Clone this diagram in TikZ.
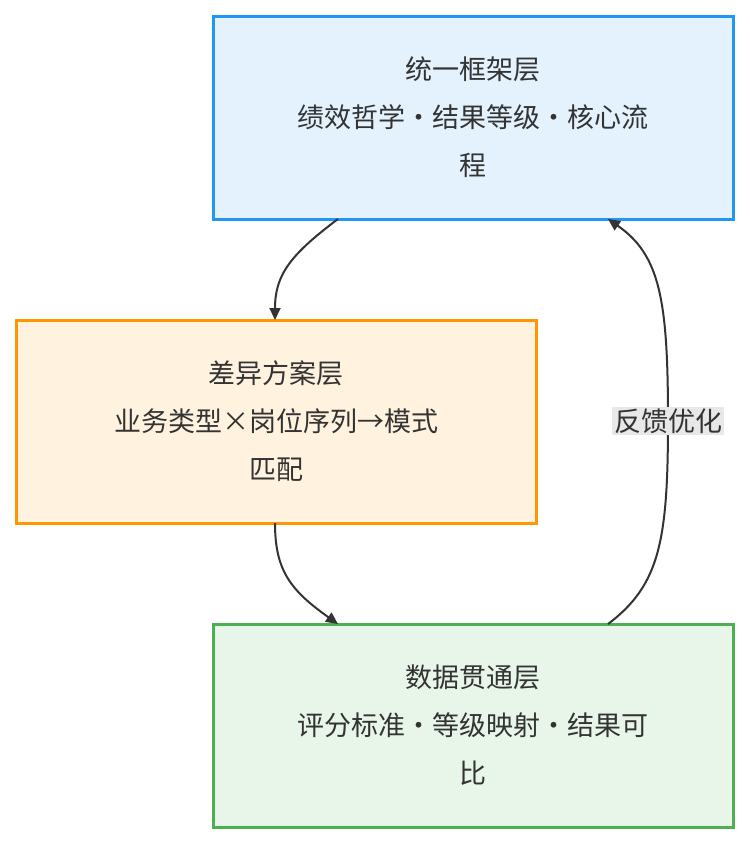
\documentclass[tikz,border=0pt]{standalone}
\usepackage{fontspec}
\setmainfont{Noto Sans CJK SC}
\usetikzlibrary{arrows.meta}
\definecolor{bb}{HTML}{2196F3}\definecolor{bf}{HTML}{E3F2FD}
\definecolor{ob}{HTML}{FF9800}\definecolor{of}{HTML}{FFF3E0}
\definecolor{gb}{HTML}{4CAF50}\definecolor{gf}{HTML}{E8F5E9}
\definecolor{ln}{HTML}{333333}\definecolor{lb}{HTML}{E8E8E8}
\begin{document}
\begin{tikzpicture}[x=1pt,y=-1pt,
  box/.style={draw,line width=3pt,minimum width=520pt,minimum height=203pt,align=center,font=\fontsize{27}{48}\selectfont,text=ln,inner sep=0pt},
  conn/.style={draw=ln,line width=2pt,-{Triangle[length=12pt,width=11pt]}}]
\useasboundingbox (0,0) rectangle (750,844);
\node[box,draw=bb,fill=bf] (a) at (473,117.5) {统一框架层\\绩效哲学·结果等级·核心流\\程};
\node[box,draw=ob,fill=of] (b) at (276,421.5) {差异方案层\\业务类型×岗位序列→模式\\匹配};
\node[box,draw=gb,fill=gf] (c) at (473,725.5) {数据贯通层\\评分标准·等级映射·结果可\\比};
\coordinate (a1) at (338,219); \coordinate (b1) at (275,320);
\coordinate (b2) at (275,523); \coordinate (c1) at (338,624);
\coordinate (c2) at (608,624); \coordinate (a2) at (608,219);
\draw[conn] (a1) .. controls (290,255) and (275,275) .. (b1);
\draw[conn] (b2) .. controls (275,570) and (290,590) .. (c1);
\draw[conn] (c2) .. controls (660,585) and (668,540) .. (668,420) .. controls (668,300) and (660,255) .. (a2);
\node[fill=lb,text=ln,font=\fontsize{27}{32}\selectfont,inner sep=2pt] (l) at (668,421) {反馈优化};
\end{tikzpicture}
\end{document}
